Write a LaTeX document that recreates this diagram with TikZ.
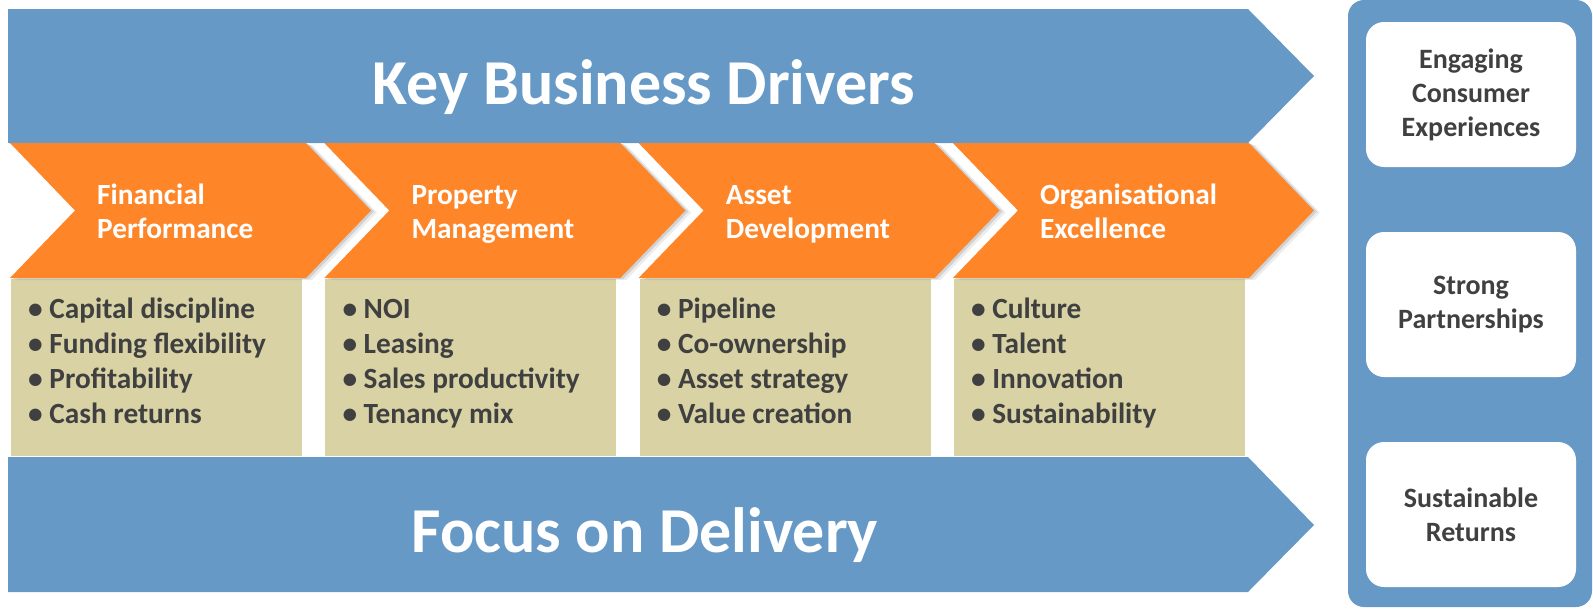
\documentclass[tikz,border=0pt]{standalone}
\usepackage{fontspec}
\setmainfont{Carlito}
\usetikzlibrary{shadows}

\definecolor{driverblue}{RGB}{103,153,198}
\definecolor{driverorange}{RGB}{254,134,41}
\definecolor{listbeige}{RGB}{216,210,164}
\definecolor{textgrey}{RGB}{64,64,64}

\tikzset{
  bigarrow/.style={fill=driverblue},
  chevron/.style={fill=driverorange,
    drop shadow={shadow xshift=3pt, shadow yshift=-1pt, opacity=.25},
    drop shadow={shadow xshift=6pt, shadow yshift=-2pt, opacity=.15}},
  listbox/.style={fill=listbeige},
  banner/.style={text=white, inner sep=0pt, anchor=base, font=\fontsize{64}{76}\bfseries},
  chevlabel/.style={text=white, inner sep=0pt, align=left, anchor=base west,
    font=\fontsize{29.3}{34}\bfseries},
  listtext/.style={text=textgrey, inner sep=0pt, align=left, anchor=base west,
    font=\fontsize{29.3}{35}\bfseries},
  goalbox/.style={fill=white, rounded corners=18pt, minimum width=210pt,
    minimum height=145pt, align=center, text=textgrey,
    font=\fontsize{28}{34}\bfseries}
}

\begin{document}
\begin{tikzpicture}[x=1pt,y=-1pt]
  \useasboundingbox (0,0) rectangle (1593,608);

  % the two long arrows
  \path[bigarrow] (8,9) -- (1248,9) -- (1314,76) -- (1248,143) -- (8,143) -- cycle;
  \path[bigarrow] (8,457) -- (1248,457) -- (1314,525) -- (1248,592) -- (8,592) -- cycle;
  \node[banner] (drivers) at (644,104) {Key Business Drivers};
  \node[banner] (delivery) at (645,552) {Focus on Delivery};

  % lists under the chevrons (base = last line)
  \foreach \i/\nm/\items in {
      0/finlist/{\textbullet\ Capital discipline\\\textbullet\ Funding flexibility\\\textbullet\ Profitability\\\textbullet\ Cash returns},
      1/proplist/{\textbullet\ NOI\\\textbullet\ Leasing\\\textbullet\ Sales productivity\\\textbullet\ Tenancy mix},
      2/assetlist/{\textbullet\ Pipeline\\\textbullet\ Co-ownership\\\textbullet\ Asset strategy\\\textbullet\ Value creation},
      3/orglist/{\textbullet\ Culture\\\textbullet\ Talent\\\textbullet\ Innovation\\\textbullet\ Sustainability}} {
    \pgfmathsetmacro\x{10+314.3*\i}
    \path[listbox] (\x+1,279) rectangle ++(291,177);
    \node[listtext] (\nm) at (\x+18,423) {\items};
  }

  % chevrons
  \foreach \i/\nm/\first/\second in {0/fin/Financial/Performance,
      1/prop/Property/Management, 2/asset/Asset/Development,
      3/org/Organisational/Excellence} {
    \pgfmathsetmacro\x{10+314.3*\i}
    \path[chevron] (\x,143) -- ++(296,0) -- ++(65,67.5) -- ++(-65,67.5)
      -- ++(-296,0) -- ++(65,-67.5) -- cycle;
    \node[chevlabel] (\nm) at (\x+87,238) {\first\\\second};
  }

  % right-hand panel
  \path[fill=driverblue, rounded corners=16pt] (1348,0) rectangle (1592,607);
  \node[goalbox] (engage) at (1471,94.5) {Engaging\\Consumer\\Experiences};
  \node[goalbox] (partner) at (1471,304.5) {Strong\\Partnerships};
  \node[goalbox] (returns) at (1471,514.5) {Sustainable\\Returns};
\end{tikzpicture}
\end{document}
